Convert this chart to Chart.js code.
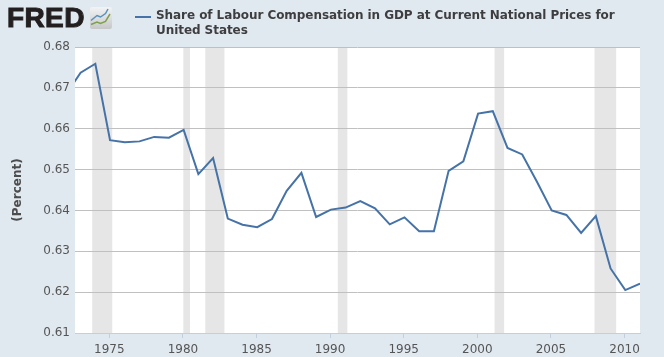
<!DOCTYPE html>
<html>
<head>
<meta charset="utf-8">
<script src="https://cdn.jsdelivr.net/npm/chart.js@4"></script>
<style>
  html, body { margin: 0; padding: 0; background: #e1e9f0; overflow: hidden; }
  #wrap { position: relative; width: 664px; height: 357px; }
  #c { position: absolute; left: 0; top: 0; }
  #logo { position: absolute; left: 7px; top: 0; font: bold 28px/36px "Liberation Sans", sans-serif;
          color: #231f20; -webkit-text-stroke: 1px #231f20; letter-spacing: 0.4px; }
  #icon { position: absolute; left: 90px; top: 7px; }
  #swatch { position: absolute; left: 135px; top: 16px; width: 16px; height: 2px; background: #4572a7; }
  #legend { position: absolute; left: 156px; top: 8px; width: 470px; letter-spacing: -0.06px;
            font: bold 12px/15px "DejaVu Sans", sans-serif; color: #3e3e40; }
</style>
</head>
<body>
<div id="wrap">
  <canvas id="c" width="664" height="357"></canvas>
  <div id="logo">FRED</div>
  <svg id="icon" width="22" height="22" viewBox="0 0 22 22">
    <defs><linearGradient id="g" x1="0" y1="0" x2="0" y2="1">
      <stop offset="0" stop-color="#f1f3f5"/><stop offset="1" stop-color="#c6c8c8"/>
    </linearGradient></defs>
    <rect x="0" y="0" width="22" height="22" rx="2" fill="url(#g)"/>
    <polyline points="1,13.5 7,8.5 10.5,10 15.5,6.5 18,2" fill="none" stroke="#5b8fbd" stroke-width="1.5"/>
    <polyline points="1,17.5 7,15 10.5,16.5 15.5,14.5 20,7" fill="none" stroke="#7fa04a" stroke-width="1.5"/>
  </svg>
  <div id="swatch"></div>
  <div id="legend">Share of Labour Compensation in GDP at Current National Prices for United States</div>
</div>
<script>
var seriesName = 'Share of Labour Compensation in GDP at Current National Prices for United States';
var years = [1972, 1973, 1974, 1975, 1976, 1977, 1978, 1979, 1980, 1981, 1982, 1983, 1984, 1985,
             1986, 1987, 1988, 1989, 1990, 1991, 1992, 1993, 1994, 1995, 1996, 1997, 1998, 1999,
             2000, 2001, 2002, 2003, 2004, 2005, 2006, 2007, 2008, 2009, 2010, 2011];
var shares = [0.6684, 0.6737, 0.6759, 0.6572, 0.6567, 0.6569, 0.6580, 0.6578, 0.6597, 0.6489,
              0.6528, 0.6380, 0.6365, 0.6359, 0.6379, 0.6448, 0.6492, 0.6384, 0.6402, 0.6407,
              0.6423, 0.6405, 0.6366, 0.6383, 0.6349, 0.6349, 0.6497, 0.6520, 0.6637, 0.6643,
              0.6553, 0.6537, 0.6470, 0.6400, 0.6389, 0.6345, 0.6386, 0.6258, 0.6205, 0.6221];
var recessionStart = [1973.84, 1980.03, 1981.52, 1990.52, 2001.17, 2007.96];
var recessionEnd = [1975.2, 1980.48, 1982.82, 1991.17, 2001.82, 2009.43];

// the yearly points sit a touch right of the tick marks in the original
var yearOffset = 0.05;

// grey recession bands, behind the grid and the line
var recessionBands = {
  id: 'recessionBands',
  beforeDraw: function (chart) {
    var ctx = chart.ctx, area = chart.chartArea, x = chart.scales.x;
    ctx.save();
    ctx.fillStyle = '#ffffff';
    ctx.fillRect(area.left, area.top, area.right - area.left, area.bottom - area.top);
    ctx.fillStyle = '#e6e6e6';
    recessionStart.forEach(function (start, i) {
      var a = x.getPixelForValue(start), b = x.getPixelForValue(recessionEnd[i]);
      ctx.fillRect(a, area.top, b - a, area.bottom - area.top);
    });
    ctx.restore();
  }
};

var points = years.map(function (y, i) { return { x: y + yearOffset, y: shares[i] }; });

new Chart(document.getElementById('c'), {
  type: 'line',
  data: {
    datasets: [{
      label: seriesName,
      data: points,
      borderColor: '#4572a7',
      borderWidth: 2,
      pointRadius: 0,
      tension: 0,
      fill: false
    }]
  },
  options: {
    responsive: false,
    animation: false,
    layout: { padding: { top: 47, right: 24, left: 0, bottom: 0 } },
    plugins: { legend: { display: false }, tooltip: { enabled: false } },
    scales: {
      x: {
        type: 'linear',
        min: 1972.67,
        max: 2011.05,
        afterFit: function (s) { s.height = 24; },
        border: { color: '#c0d0e0', width: 1 },
        grid: { drawOnChartArea: false, color: '#c0d0e0', tickLength: 5 },
        ticks: {
          stepSize: 5,
          includeBounds: false,
          maxRotation: 0,
          padding: 5,
          color: '#555555',
          font: { family: '"DejaVu Sans"', size: 12 },
          callback: function (v) { return String(v); }
        }
      },
      y: {
        min: 0.61,
        max: 0.68,
        afterFit: function (s) { s.width = 75; },
        border: { display: false },
        grid: {
          drawTicks: false,
          lineWidth: 1,
          color: function (c) { return c.tick && c.tick.value < 0.611 ? '#c0d0e0' : '#c0c0c0'; }
        },
        ticks: {
          stepSize: 0.01,
          padding: 5,
          color: '#555555',
          font: { family: '"DejaVu Sans"', size: 12 },
          callback: function (v) { return v.toFixed(2); }
        },
        title: {
          display: true,
          text: '(Percent)',
          color: '#4d4d4d',
          padding: { top: 11, bottom: 0 },
          font: { family: '"DejaVu Sans"', size: 12, weight: 'bold' }
        }
      }
    }
  },
  plugins: [recessionBands]
});
</script>
</body>
</html>
